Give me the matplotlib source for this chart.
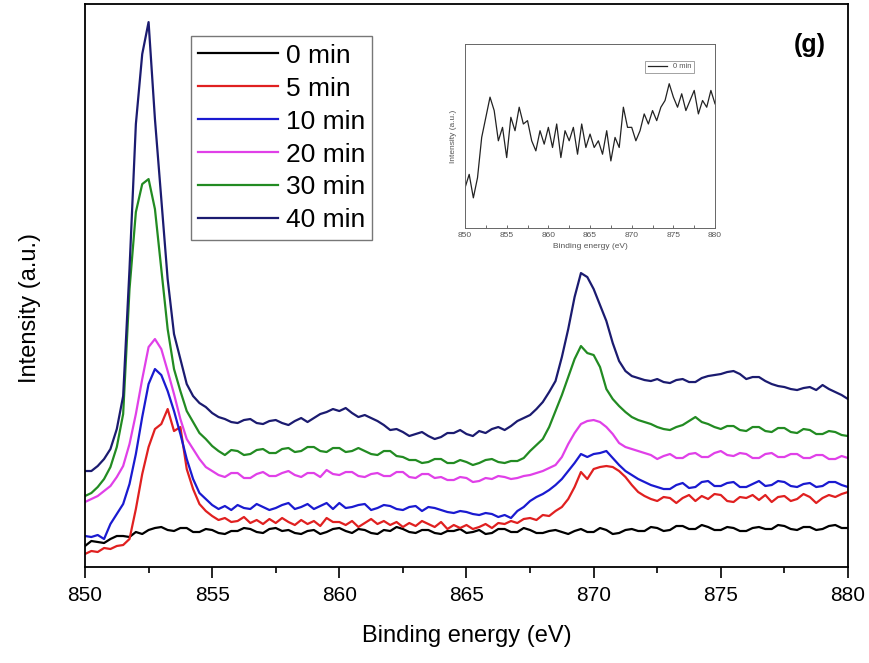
import numpy as np
import matplotlib
matplotlib.use("Agg")
import matplotlib.pyplot as plt
from matplotlib.ticker import MultipleLocator

plt.rcParams['font.family'] = ['Liberation Sans', 'DejaVu Sans']

# binding energy grid (eV), 0.25 eV steps, 10 points per 2.5 eV row
energy = np.arange(850, 880.001, 0.25)

# intensities (a.u.)
min0 = [21, 26, 25, 24, 28, 31, 31, 30, 35, 33,
        37, 39, 40, 37, 36, 39, 39, 35, 35, 38,
        37, 34, 33, 36, 36, 39, 38, 35, 34, 38,
        39, 36, 37, 34, 33, 36, 37, 33, 35, 38,
        39, 36, 34, 38, 37, 34, 33, 37, 36, 40,
        38, 35, 34, 37, 37, 34, 33, 36, 36, 38,
        34, 35, 37, 33, 34, 38, 38, 35, 35, 39,
        37, 34, 34, 36, 37, 35, 33, 36, 38, 35,
        35, 39, 37, 33, 34, 37, 38, 36, 36, 40,
        39, 36, 37, 41, 41, 38, 38, 42, 40, 37,
        37, 40, 39, 36, 36, 39, 40, 38, 38, 42,
        41, 38, 37, 40, 40, 37, 38, 41, 42, 39,
        39]
min5 = [13, 16, 15, 19, 18, 21, 22, 28, 58, 93,
        120, 138, 143, 158, 136, 140, 98, 78, 63, 56,
        51, 47, 49, 45, 46, 50, 44, 47, 43, 48,
        44, 49, 45, 42, 47, 43, 46, 41, 49, 45,
        45, 42, 46, 40, 44, 48, 43, 46, 42, 45,
        40, 44, 41, 46, 43, 40, 45, 38, 42, 39,
        42, 38, 40, 43, 39, 44, 43, 46, 44, 48,
        49, 47, 52, 51, 56, 60, 68, 80, 95, 88,
        98, 100, 101, 100, 96, 90, 82, 75, 71, 68,
        66, 70, 69, 64, 69, 72, 66, 71, 68, 73,
        72, 66, 65, 70, 69, 72, 67, 72, 65, 70,
        71, 66, 68, 73, 70, 64, 69, 72, 70, 73,
        75]
min10 = [31, 30, 32, 28, 43, 53, 63, 83, 113, 150,
         183, 198, 192, 176, 156, 133, 108, 88, 74, 68,
         62, 58, 61, 57, 62, 59, 58, 63, 60, 57,
         59, 62, 64, 58, 60, 63, 58, 61, 64, 58,
         64, 59, 60, 62, 63, 57, 59, 62, 61, 58,
         57, 60, 61, 56, 60, 59, 57, 55, 54, 56,
         55, 53, 52, 54, 53, 50, 52, 49, 56, 60,
         66, 70, 73, 77, 82, 88, 96, 104, 113, 110,
         113, 114, 116, 109, 102, 96, 92, 88, 85, 82,
         80, 78, 78, 82, 84, 79, 80, 85, 86, 81,
         81, 84, 85, 80, 80, 83, 86, 81, 82, 86,
         85, 81, 80, 83, 84, 80, 81, 85, 85, 82,
         80]
min20 = [65, 68, 71, 76, 81, 90, 101, 123, 153, 188,
         220, 228, 218, 196, 173, 148, 128, 118, 108, 100,
         96, 92, 90, 94, 94, 89, 89, 93, 95, 91,
         91, 94, 96, 92, 90, 94, 94, 90, 97, 93,
         92, 95, 95, 91, 90, 93, 94, 91, 91, 95,
         95, 90, 89, 93, 93, 89, 90, 87, 87, 90,
         89, 85, 86, 89, 88, 91, 90, 88, 89, 91,
         92, 94, 96, 99, 102, 110, 123, 134, 143, 146,
         147, 145, 140, 133, 124, 120, 118, 116, 114, 112,
         108, 111, 113, 109, 109, 113, 114, 110, 110, 114,
         116, 112, 111, 114, 113, 109, 109, 113, 114, 110,
         110, 113, 113, 109, 109, 112, 112, 108, 108, 111,
         109]
min30 = [71, 74, 80, 88, 100, 120, 153, 278, 355, 383,
         388, 358, 298, 238, 198, 176, 156, 145, 134, 128,
         121, 116, 112, 117, 116, 112, 113, 117, 118, 114,
         114, 118, 119, 115, 116, 120, 120, 116, 115, 119,
         119, 115, 116, 119, 116, 113, 112, 116, 116, 111,
         110, 107, 107, 104, 105, 108, 108, 104, 104, 107,
         105, 102, 104, 107, 108, 105, 104, 106, 106, 109,
         116, 122, 128, 140, 156, 172, 190, 208, 221, 214,
         212, 200, 178, 168, 161, 155, 150, 147, 145, 143,
         140, 138, 137, 140, 142, 146, 150, 145, 143, 140,
         138, 141, 141, 137, 136, 140, 140, 136, 135, 139,
         139, 135, 134, 138, 137, 133, 133, 136, 135, 132,
         131]
min40 = [96, 96, 101, 108, 118, 138, 171, 298, 443, 513,
         545, 448, 368, 288, 233, 208, 183, 171, 164, 160,
         154, 150, 148, 145, 144, 147, 148, 144, 143, 146,
         147, 144, 142, 146, 149, 145, 149, 153, 155, 158,
         156, 159, 154, 150, 152, 149, 146, 142, 137, 138,
         135, 131, 133, 135, 131, 128, 130, 134, 134, 137,
         133, 131, 136, 134, 138, 140, 137, 141, 146, 149,
         152, 158, 165, 175, 186, 210, 238, 270, 294, 290,
         278, 262, 246, 224, 206, 196, 191, 189, 187, 186,
         188, 185, 184, 187, 188, 185, 185, 189, 191, 192,
         193, 195, 196, 193, 188, 190, 190, 186, 183, 181,
         180, 178, 177, 179, 180, 177, 182, 178, 175, 172,
         168]

# inset: 0 min spectrum on its own scale, 0.5 eV steps
energy_inset = np.arange(850, 880.001, 0.5)
inset_0min = [120, 160, 90, 150, 270, 330, 390, 350, 260, 300, 210, 330, 290, 360, 310, 320, 260, 230, 290, 250,
              300, 240, 310, 210, 290, 260, 300, 220, 310, 240, 280, 240, 260, 220, 290, 200, 270, 240, 360, 300,
              300, 260, 290, 340, 310, 350, 320, 360, 380, 430, 390, 360, 400, 350, 380, 410, 340, 380, 360, 410, 370]

labels = ['0 min', '5 min', '10 min', '20 min', '30 min', '40 min']
colors = ['black', '#e02020', '#1a1ad0', '#e040e8', '#228b22', '#1b1b70']
series = [min0, min5, min10, min20, min30, min40]

fig = plt.figure(figsize=(8.7, 6.63), dpi=100)
ax = fig.add_axes([0.0977, 0.1448, 0.877, 0.849])

for y, lab, c in zip(series, labels, colors):
    ax.plot(energy, y, color=c, lw=1.6, label=lab)

ax.set_xlim(850, 880)
ax.set_ylim(0, 563)
ax.xaxis.set_major_locator(MultipleLocator(5))
ax.xaxis.set_minor_locator(MultipleLocator(2.5))
ax.tick_params(axis='x', which='major', direction='out', length=8, width=1.2, labelsize=15, pad=6)
ax.tick_params(axis='x', which='minor', direction='out', length=4, width=1.2)
ax.set_yticks([])
for s in ax.spines.values():
    s.set_linewidth(1.3)
ax.set_xlabel('Binding energy (eV)', fontsize=17, labelpad=14)
ax.set_ylabel('Intensity (a.u.)', fontsize=17)
ax.yaxis.set_label_coords(-0.058, 0.46)

leg = ax.legend(loc='upper left', bbox_to_anchor=(0.139, 0.943), borderaxespad=0, fontsize=19,
                frameon=True, fancybox=False, edgecolor='#555555', handlelength=3.0,
                handletextpad=0.3, labelspacing=0.34, borderpad=0.28)
leg.get_frame().set_linewidth(1.0)

ax.text(0.95, 0.927, '(g)', transform=ax.transAxes, fontsize=18, fontweight='bold',
        ha='center', va='center')

# inset
ins = fig.add_axes([0.5345, 0.656, 0.2874, 0.2775])
ins.plot(energy_inset, inset_0min, color='#222222', lw=0.9, label='0 min')
ins.set_xlim(850, 880)
ins.set_ylim(0, 548)
ins.xaxis.set_major_locator(MultipleLocator(5))
ins.xaxis.set_minor_locator(MultipleLocator(2.5))
ins.tick_params(axis='x', which='both', direction='in', length=2, width=0.6, labelsize=6, pad=3,
                colors='#555555')
ins.set_yticks([])
for s in ins.spines.values():
    s.set_linewidth(0.7)
    s.set_color('#666666')
ins.set_xlabel('Binding energy (eV)', fontsize=6, color='#555555', labelpad=3)
ins.set_ylabel('Intensity (a.u.)', fontsize=6, color='#555555', labelpad=6)
il = ins.legend(loc='upper right', fontsize=5.5, frameon=True, fancybox=False, edgecolor='#777777',
                handlelength=2.5, borderpad=0.3, bbox_to_anchor=(0.93, 0.93))
il.get_frame().set_linewidth(0.6)
for t in il.get_texts():
    t.set_color('#555555')

fig.savefig('out.png', dpi=100)
